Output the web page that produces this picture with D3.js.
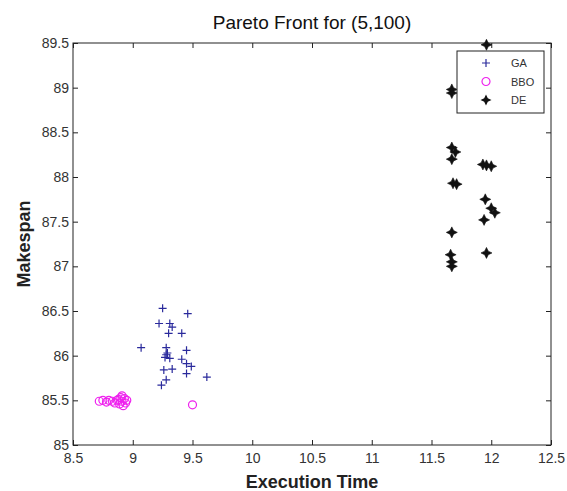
<!DOCTYPE html>
<html>
<head>
<meta charset="utf-8">
<script src="https://cdn.jsdelivr.net/npm/d3@7"></script>
<style>
  body { margin: 0; background: #fff; }
  text { font-family: "Liberation Sans", Arial, sans-serif; }
</style>
</head>
<body>
<svg id="chart" width="567" height="491"></svg>
<script>
// values
xTicks = [8.5, 9, 9.5, 10, 10.5, 11, 11.5, 12, 12.5];
yTicks = [85, 85.5, 86, 86.5, 87, 87.5, 88, 88.5, 89, 89.5];
seriesNames = ["GA", "BBO", "DE"];

gaX = [9.25, 9.46, 9.22, 9.31, 9.33, 9.30, 9.41, 9.07, 9.28, 9.45, 9.28, 9.31, 9.41, 9.45, 9.49, 9.26, 9.33, 9.45, 9.62, 9.28, 9.24, 9.27, 9.29];
gaY = [86.53, 86.47, 86.36, 86.36, 86.32, 86.25, 86.25, 86.09, 86.09, 86.06, 86.01, 85.97, 85.96, 85.91, 85.88, 85.84, 85.85, 85.80, 85.76, 85.73, 85.67, 85.98, 86.03];

bboX = [8.72, 8.75, 8.78, 8.80, 8.83, 8.85, 8.87, 8.89, 8.90, 8.91, 8.92, 8.93, 8.94, 8.95, 8.91, 8.88, 9.50];
bboY = [85.49, 85.50, 85.48, 85.50, 85.49, 85.47, 85.50, 85.46, 85.53, 85.49, 85.44, 85.52, 85.47, 85.50, 85.55, 85.51, 85.45];

deX = [11.96, 11.67, 11.67, 11.67, 11.70, 11.67, 11.68, 11.71, 11.67, 11.66, 11.67, 11.67, 11.93, 12.00, 11.95, 12.00, 12.03, 11.94, 11.96, 11.96];
deY = [89.48, 88.98, 88.94, 88.33, 88.28, 88.20, 87.93, 87.92, 87.38, 87.13, 87.05, 87.00, 88.14, 88.12, 87.75, 87.65, 87.60, 87.52, 87.15, 88.13];

let svg = d3.select("#chart");
let pLeft = 73, pRight = 551, pTop = 43, pBottom = 445;

let x = d3.scaleLinear().domain([8.5, 12.5]).range([pLeft, pRight]);
let y = d3.scaleLinear().domain([85, 89.5]).range([pBottom, pTop]);

let fmt = d => String(d);

// axes, MATLAB style ticks pointing inwards
svg.append("g")
    .attr("transform", "translate(0," + pBottom + ")")
    .call(d3.axisBottom(x).tickValues(xTicks).tickFormat(fmt).tickSizeInner(-5).tickSizeOuter(0).tickPadding(8));
svg.append("g")
    .attr("transform", "translate(0," + pTop + ")")
    .call(d3.axisTop(x).tickValues(xTicks).tickFormat("").tickSizeInner(-5).tickSizeOuter(0));
svg.append("g")
    .attr("transform", "translate(" + pLeft + ",0)")
    .call(d3.axisLeft(y).tickValues(yTicks).tickFormat(fmt).tickSizeInner(-5).tickSizeOuter(0).tickPadding(4));
svg.append("g")
    .attr("transform", "translate(" + pRight + ",0)")
    .call(d3.axisRight(y).tickValues(yTicks).tickFormat("").tickSizeInner(-5).tickSizeOuter(0));

svg.selectAll(".domain").remove();
svg.selectAll(".tick line").attr("stroke", "#222");
svg.selectAll(".tick text")
    .style("font-size", "14px")
    .style("font-family", "'Liberation Sans', Arial, sans-serif")
    .attr("fill", "#333");

svg.append("rect")
    .attr("x", pLeft).attr("y", pTop)
    .attr("width", pRight - pLeft).attr("height", pBottom - pTop)
    .attr("fill", "none").attr("stroke", "#222");

// markers
let plusPath = "M-4,0H4M0,-4V4";
let starPath = (function(){
    let r = 5.5, w = 1.8;
    return "M0," + (-r) + "L" + w + "," + (-w) + "L" + r + ",0L" + w + "," + w +
        "L0," + r + "L" + (-w) + "," + w + "L" + (-r) + ",0L" + (-w) + "," + (-w) + "Z";
})();

let ga = d3.zip(gaX, gaY);
let bbo = d3.zip(bboX, bboY);
let de = d3.zip(deX, deY);

let plot = svg.append("g");

plot.selectAll(".ga").data(ga).enter()
    .append("path")
    .attr("class", "ga")
    .attr("d", plusPath)
    .attr("transform", d => "translate(" + x(d[0]) + "," + y(d[1]) + ")")
    .attr("stroke", "#2a2a9c").attr("stroke-width", 1.2).attr("fill", "none");

plot.selectAll(".bbo").data(bbo).enter()
    .append("circle")
    .attr("class", "bbo")
    .attr("cx", d => x(d[0])).attr("cy", d => y(d[1]))
    .attr("r", 4)
    .attr("stroke", "#ee22ee").attr("stroke-width", 1.2).attr("fill", "none");

plot.selectAll(".de").data(de).enter()
    .append("path")
    .attr("class", "de")
    .attr("d", starPath)
    .attr("transform", d => "translate(" + x(d[0]) + "," + y(d[1]) + ")")
    .attr("fill", "#111").attr("stroke", "#111").attr("stroke-width", 0.6);

// legend
let legend = svg.append("g");
legend.append("rect")
    .attr("x", 457).attr("y", 51).attr("width", 87).attr("height", 62)
    .attr("fill", "#fff").attr("stroke", "#222");

seriesNames.forEach(function(name, i){
    let ly = 63 + i * 18.5;
    let mk = legend.append("g").attr("transform", "translate(486," + ly + ")");
    if (i == 0) mk.append("path").attr("d", plusPath).attr("stroke", "#2a2a9c").attr("stroke-width", 1.2);
    if (i == 1) mk.append("circle").attr("r", 4).attr("fill", "none").attr("stroke", "#ee22ee").attr("stroke-width", 1.2);
    if (i == 2) mk.append("path").attr("d", starPath).attr("fill", "#111");
    legend.append("text")
        .attr("x", 511).attr("y", ly + 4)
        .style("font-size", "11px")
        .attr("fill", "#333")
        .text(name);
});

// titles
svg.append("text")
    .attr("x", (pLeft + pRight) / 2).attr("y", 29)
    .attr("text-anchor", "middle")
    .style("font-size", "19px")
    .attr("fill", "#111")
    .text("Pareto Front for (5,100)");

svg.append("text")
    .attr("x", (pLeft + pRight) / 2).attr("y", 488)
    .attr("text-anchor", "middle")
    .style("font-size", "18px").style("font-weight", "bold")
    .attr("fill", "#222")
    .text("Execution Time");

svg.append("text")
    .attr("transform", "translate(30," + ((pTop + pBottom) / 2) + ") rotate(-90)")
    .attr("text-anchor", "middle")
    .style("font-size", "18px").style("font-weight", "bold")
    .attr("fill", "#222")
    .text("Makespan");
</script>
</body>
</html>
